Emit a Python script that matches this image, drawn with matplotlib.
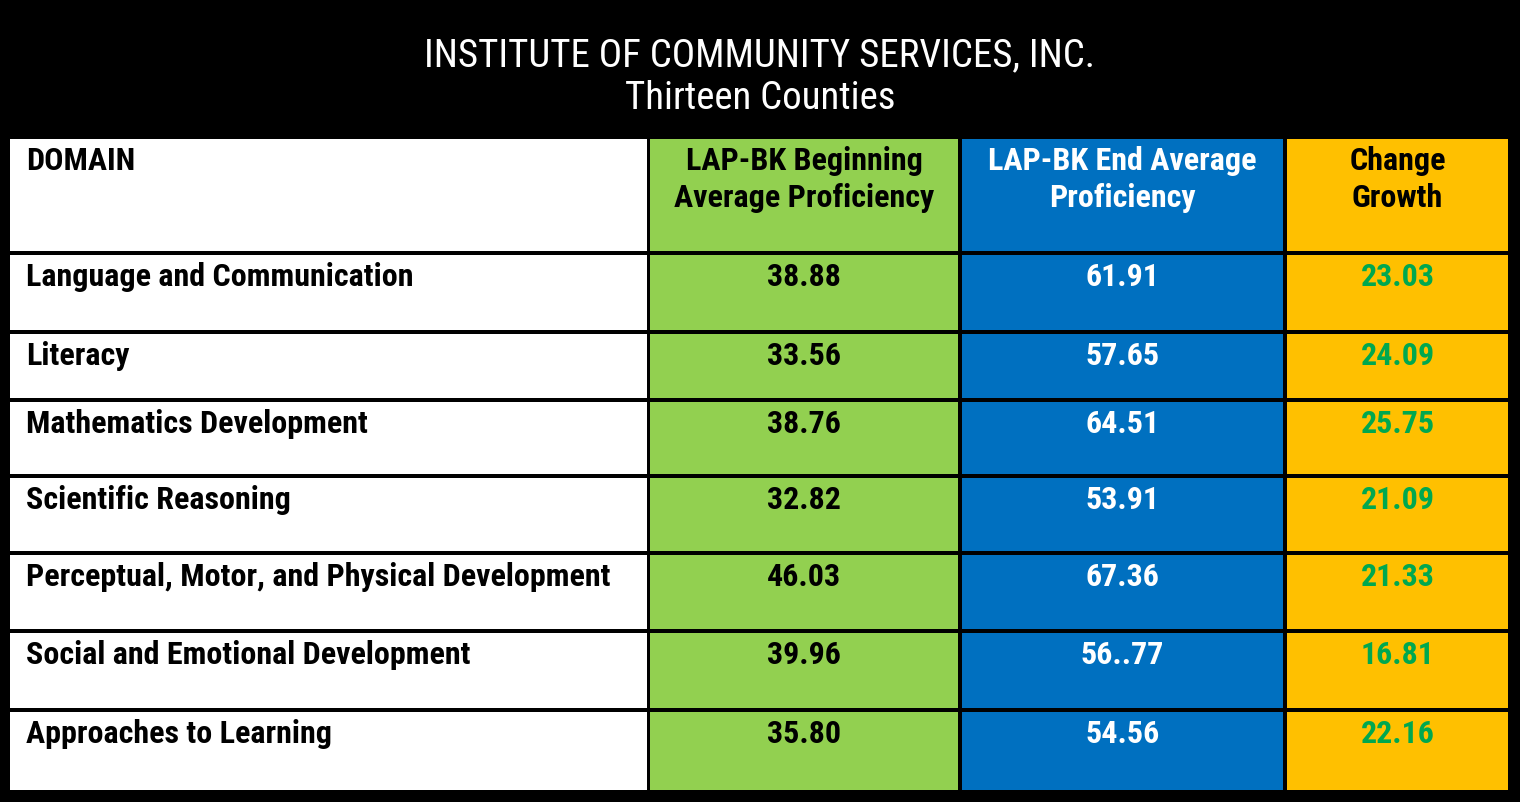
import matplotlib
matplotlib.use("Agg")
from matplotlib import pyplot as plt
from matplotlib.patches import Rectangle

# table data
title = "INSTITUTE OF COMMUNITY SERVICES, INC."
subtitle = "Thirteen Counties"
headers = ["DOMAIN", "LAP-BK Beginning\nAverage Proficiency",
           "LAP-BK End Average\nProficiency", "Change\nGrowth"]
domains = ["Language and Communication", "Literacy", "Mathematics Development",
           "Scientific Reasoning", "Perceptual, Motor, and Physical Development",
           "Social and Emotional Development", "Approaches to Learning"]
begin_avg = ["38.88", "33.56", "38.76", "32.82", "46.03", "39.96", "35.80"]
end_avg = ["61.91", "57.65", "64.51", "53.91", "67.36", "56..77", "54.56"]
growth = ["23.03", "24.09", "25.75", "21.09", "21.33", "16.81", "22.16"]

plt.rcParams['font.family'] = ['Roboto Condensed', 'DejaVu Sans']

fig = plt.figure(figsize=(15.2, 8.02), dpi=100, facecolor='black')
ax = fig.add_axes([0, 0, 1, 1])
ax.set_xlim(0, 1520)
ax.set_ylim(802, 0)
ax.axis('off')

# column edges and row edges in pixels
col_x = [(10, 647), (650, 958), (962, 1283), (1287, 1508)]
row_y = [(139, 251), (255, 330), (334, 398), (402, 474), (478, 551),
         (555, 629), (633, 708), (712, 790)]
fills = ['white', '#92D050', '#0070C0', '#FFC000']
txt_col = ['black', 'black', 'white', '#00A84F']
head_col = ['black', 'black', 'white', 'black']

ax.text(760, 66, title, color='white', fontsize=28, ha='center', va='baseline')
ax.text(760, 109, subtitle, color='white', fontsize=28, ha='center', va='baseline')

columns = [domains, begin_avg, end_avg, growth]
for r, (y0, y1) in enumerate(row_y):
    for c, (x0, x1) in enumerate(col_x):
        ax.add_patch(Rectangle((x0, y0), x1 - x0, y1 - y0, facecolor=fills[c],
                               edgecolor='none'))
        if r == 0:
            s = headers[c]
            color = head_col[c]
        else:
            s = columns[c][r - 1]
            color = txt_col[c]
        for i, part in enumerate(s.split('\n')):
            if c == 0:
                ax.text(x0 + 16, y0 + 31 + i * 37, part, color=color, fontsize=23,
                        fontweight='bold', ha='left', va='baseline')
            else:
                ax.text((x0 + x1) / 2, y0 + 31 + i * 37, part, color=color,
                        fontsize=23, fontweight='bold', ha='center', va='baseline')

plt.savefig('out.png', dpi=100, facecolor='black')
